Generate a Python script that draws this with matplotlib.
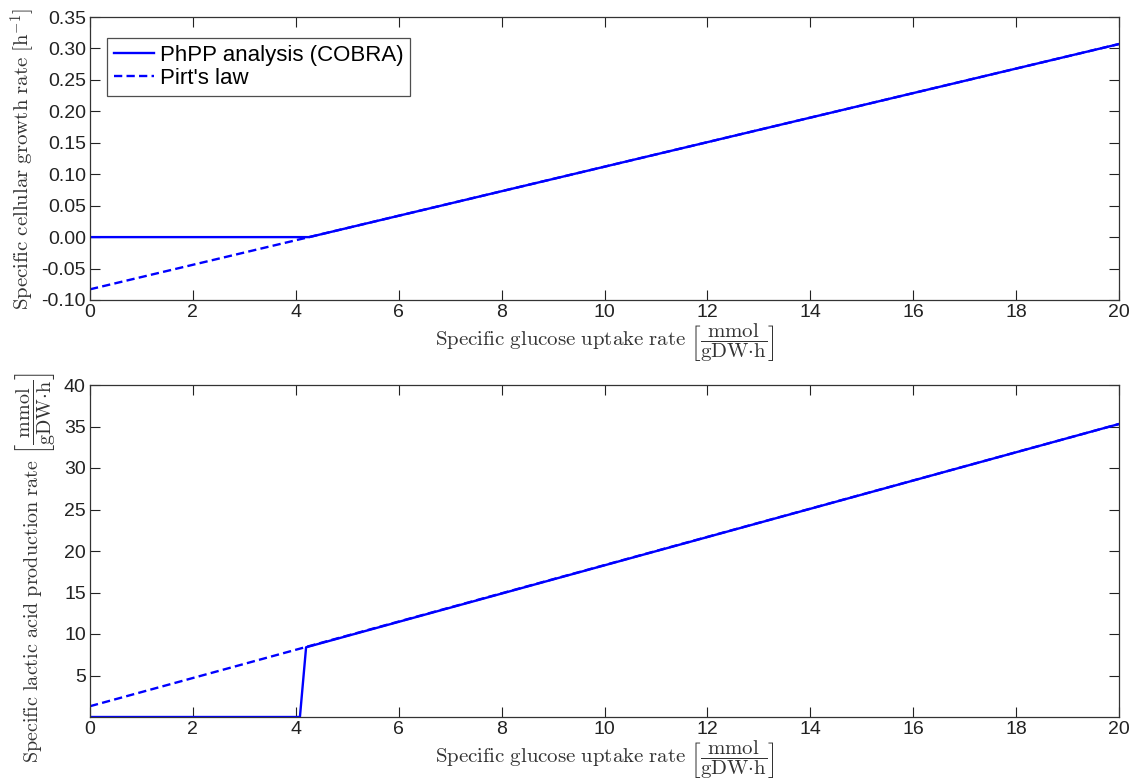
import matplotlib
matplotlib.use("Agg")
import matplotlib.pyplot as plt
from matplotlib.ticker import FormatStrFormatter

# ---- data ----
glucose_pirt = [0, 20]
growth_pirt = [-0.083, 0.307]
lactate_pirt = [1.3, 35.3]

glucose_cobra_growth = [0, 4.26, 20]
growth_cobra = [0.0, 0.0, 0.307]

glucose_cobra_lact = [0, 4.08, 4.2, 20]
lactate_cobra = [0.0, 0.0, 8.4, 35.3]

xticks = list(range(0, 21, 2))
growth_yticks = [-0.10, -0.05, 0.00, 0.05, 0.10, 0.15, 0.20, 0.25, 0.30, 0.35]
lact_yticks = [5, 10, 15, 20, 25, 30, 35, 40]

plt.rcParams['font.family'] = ['Liberation Sans', 'DejaVu Sans']
plt.rcParams['mathtext.fontset'] = 'cm'

fig = plt.figure(figsize=(11.44, 7.82), dpi=100)
W, H = 1144, 782
def rect(l, t, r, b):
    return [l / W, 1 - b / H, (r - l) / W, (b - t) / H]

ax1 = fig.add_axes(rect(90, 17, 1119, 300))
ax2 = fig.add_axes(rect(90, 385, 1119, 717))

blue = '#0000ff'
lw = 1.7
dash = (3.5, 1.8)
ax1.plot(glucose_cobra_growth, growth_cobra, color=blue, lw=lw, ls='-', label='PhPP analysis (COBRA)')
ax1.plot(glucose_pirt, growth_pirt, color=blue, lw=lw, ls=(0, dash), label="Pirt's law")
ax2.plot(glucose_cobra_lact, lactate_cobra, color=blue, lw=lw, ls='-')
ax2.plot(glucose_pirt, lactate_pirt, color=blue, lw=lw, ls=(0, dash))

xlabel = r'$\mathrm{Specific\ glucose\ uptake\ rate}\ \left[\dfrac{\mathrm{mmol}}{\mathrm{gDW{\cdot}h}}\right]$'
label_color = '#333333'

ax1.set_xlim(0, 20)
ax1.set_ylim(-0.10, 0.35)
ax1.set_xticks(xticks)
ax1.set_yticks(growth_yticks)
ax1.yaxis.set_major_formatter(FormatStrFormatter('%.2f'))
ax1.set_xlabel(xlabel, fontsize=15, color=label_color, labelpad=0)
ax1.set_ylabel(r'$\mathrm{Specific\ cellular\ growth\ rate}\ [\mathrm{h}^{-1}]$', fontsize=15,
               color=label_color, labelpad=3)

ax2.set_xlim(0, 20)
ax2.set_ylim(0, 40)
ax2.set_xticks(xticks)
ax2.set_yticks(lact_yticks)
ax2.set_xlabel(xlabel, fontsize=15, color=label_color, labelpad=0)
ax2.set_ylabel(r'$\mathrm{Specific\ lactic\ acid\ production\ rate}\ \left[\dfrac{\mathrm{mmol}}{\mathrm{gDW{\cdot}h}}\right]$',
               fontsize=14.5, color=label_color)
ax2.yaxis.set_label_coords(-0.032, 0.45)

for ax in (ax1, ax2):
    ax.tick_params(direction='in', top=True, right=True, length=7, width=0.8,
                   labelsize=14, colors='#222222', pad=3)
    for s in ax.spines.values():
        s.set_color('#333333')
        s.set_linewidth(0.9)

leg = ax1.legend(loc='upper left', bbox_to_anchor=(0.017, 0.925), fontsize=16, frameon=True,
                 fancybox=False, edgecolor='#222222', borderaxespad=0, handlelength=1.8,
                 handletextpad=0.25, borderpad=0.3, labelspacing=0.1)
leg.get_frame().set_linewidth(0.9)

fig.savefig('out.png', dpi=100)
